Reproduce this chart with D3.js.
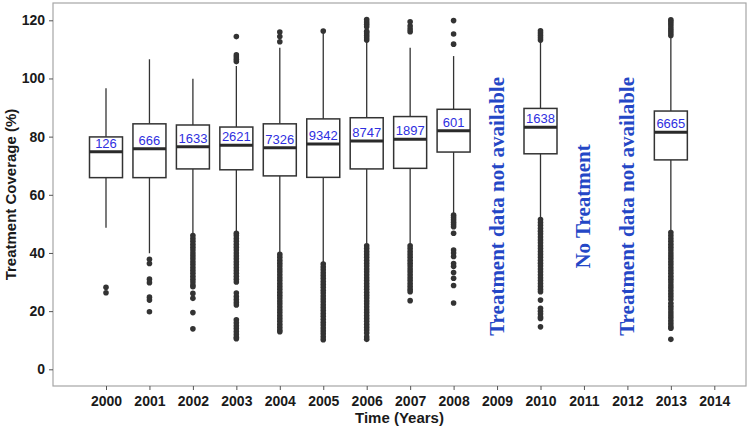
<!DOCTYPE html>
<html>
<head>
<meta charset="utf-8">
<script src="https://cdn.jsdelivr.net/npm/d3@7"></script>
<style>
  body { margin: 0; background: #fff; }
</style>
</head>
<body>
<div class="canvas"></div>
<script>
// data
const years = [2000, 2001, 2002, 2003, 2004, 2005, 2006, 2007, 2008, 2009, 2010, 2011, 2012, 2013, 2014];
const yTicks = [0, 20, 40, 60, 80, 100, 120];

const boxYears = [2000, 2001, 2002, 2003, 2004, 2005, 2006, 2007, 2008, 2010, 2013];
const counts = [126, 666, 1633, 2621, 7326, 9342, 8747, 1897, 601, 1638, 6665];
const q1 = [65.9, 65.9, 68.9, 68.6, 66.5, 66, 68.9, 69.1, 74.7, 74.1, 72];
const medians = [74.8, 75.8, 76.5, 77, 76.2, 77.5, 78.5, 79.1, 82, 83.2, 81.5];
const q3 = [79.9, 84.4, 84, 83.3, 84.4, 86.1, 86.5, 86.9, 89.4, 89.7, 88.8];
const whiskerLow = [48.7, 39.9, 46.5, 46.8, 39.8, 36.7, 43, 42.7, 53.6, 51.9, 47.3];
const whiskerHigh = [96.6, 106.6, 99.9, 104.3, 110.6, 115.8, 112.7, 110.6, 107.7, 112.7, 114];

const outliers = [
    [28.2, 26.3],
    [37.8, 36.4, 31, 29.8, 24.8, 23.8, 19.8],
    [46, 45, 44, 43, 42, 41, 40, 39, 38, 37, 36, 35, 34, 33, 32, 31, 30, 29, 28.4, 26.1, 24.4, 19.5, 13.9],
    [105.8, 106.6, 107.4, 108.1, 114.4,
     46.8, 46, 45, 44, 43, 42, 41, 40, 39, 38, 37, 36, 35, 34, 33, 32, 31, 30, 26.2, 25, 24, 23, 22.1,
     17, 16, 15, 14, 13, 12, 11, 10.5],
    [112.6, 114.4, 116,
     39.5, 38.5, 37.5, 36.5, 35.5, 34.5, 33.5, 32.5, 31.5, 30.5, 29.5, 28.5, 27.5, 26.5, 25.5, 24.5,
     23.5, 22.5, 21.5, 20.5, 19.5, 18.5, 17.5, 16.5, 15.5, 14.5, 13.5, 12.9],
    [116.3,
     36.2, 35.2, 34.2, 33.2, 32.2, 31.2, 30.2, 29.2, 28.2, 27.2, 26.2, 25.2, 24.2, 23.2, 22.2, 21.2,
     20.2, 19.2, 18.2, 17.2, 16.2, 15.2, 14.2, 13.2, 12.2, 11.2, 10.2],
    [113.2, 114, 114.8, 115.6, 116.2, 117.8, 118.6, 119.4, 120.3,
     42.5, 41.5, 40.5, 39.5, 38.5, 37.5, 36.5, 35.5, 34.5, 33.5, 32.5, 31.5, 30.5, 29.5, 28.5, 27.5,
     26.5, 25.5, 24.5, 23.5, 22.5, 21.5, 20.5, 19.5, 18.5, 17.5, 16.5, 15.5, 14.5, 13.5, 12.5, 11.2, 10.3],
    [116.1, 117, 118, 119.5,
     42.5, 41.5, 40.5, 39.5, 38.5, 37.5, 36.5, 35.5, 34.5, 33.5, 32.5, 31.5, 30.5, 29.5, 28.5, 27.5,
     26.7, 23.6],
    [111.8, 115.3, 119.9,
     53, 52.2, 51.4, 50.6, 49.8, 49, 46.8, 41, 40, 38.8, 36.4, 35.4, 33.3, 31.3, 28.8, 22.8],
    [113.2, 114, 114.8, 115.6, 116.4,
     51.5, 50.5, 49.5, 48.5, 47.5, 46.5, 45.5, 44.5, 43.5, 42.5, 41.5, 40.5, 39.5, 38.5, 37.5, 36.5,
     35.5, 34.5, 33.5, 32.5, 31.5, 30.5, 29.5, 28.5, 27.5, 26.7, 23.8, 21, 20, 19, 18, 17.5, 14.6],
    [114.8, 115.6, 116.4, 117.2, 118, 118.8, 119.6, 120.2,
     47, 46, 45, 44, 43, 42, 41, 40, 39, 38, 37, 36, 35, 34, 33, 32, 31, 30, 29, 28, 27, 26, 25, 24,
     22.7, 21.7, 20.7, 19.7, 18.7, 17.7, 16.7, 15.7, 14.7, 14.1, 10.3]
];

const noteYears = [2009, 2011, 2012];
const noteTexts = ['Treatment data not available', 'No Treatment', 'Treatment data not available'];
const noteLevel = 56;

// svg + panel
const width = 750, height = 430;
const panel = { left: 53, right: 746, top: 3, bottom: 386 };

const svg = d3.select('.canvas')
    .append('svg')
    .attr('width', width)
    .attr('height', height);

// scales
const x = d3.scaleLinear()
    .domain([2000, 2014])
    .range([106, 714.3]);

const y = d3.scaleLinear()
    .domain([0, 120])
    .range([369.3, 20.3]);

const boxW = 33;

// panel border
svg.append('rect')
    .attr('x', panel.left)
    .attr('y', panel.top)
    .attr('width', panel.right - panel.left)
    .attr('height', panel.bottom - panel.top)
    .attr('fill', '#fff')
    .attr('stroke', '#a6a6a6')
    .attr('stroke-width', 1.2);

// axes
const xAxis = d3.axisBottom(x)
    .tickValues(years)
    .tickFormat(d3.format('d'))
    .tickSize(4)
    .tickPadding(6);

const yAxis = d3.axisLeft(y)
    .tickValues(yTicks)
    .tickSize(4)
    .tickPadding(4);

const xAxisGroup = svg.append('g')
    .attr('transform', `translate(0, ${panel.bottom})`)
    .call(xAxis);

const yAxisGroup = svg.append('g')
    .attr('transform', `translate(${panel.left}, 0)`)
    .call(yAxis);

[xAxisGroup, yAxisGroup].forEach(g => {
    g.select('.domain').remove();
    g.selectAll('line').attr('stroke', '#555');
    g.selectAll('text')
        .attr('fill', '#1a1a1a')
        .style('font-family', '"Liberation Sans", Arial, sans-serif')
        .style('font-weight', 'bold')
        .style('font-size', '14px');
});

// axis titles
svg.append('text')
    .attr('x', (panel.left + panel.right) / 2)
    .attr('y', 423)
    .attr('text-anchor', 'middle')
    .attr('fill', '#1a1a1a')
    .style('font-family', '"Liberation Sans", Arial, sans-serif')
    .style('font-weight', 'bold')
    .style('font-size', '15px')
    .text('Time (Years)');

svg.append('text')
    .attr('transform', `translate(16, ${(panel.top + panel.bottom) / 2}) rotate(-90)`)
    .attr('text-anchor', 'middle')
    .attr('fill', '#1a1a1a')
    .style('font-family', '"Liberation Sans", Arial, sans-serif')
    .style('font-weight', 'bold')
    .style('font-size', '15px')
    .text('Treatment Coverage (%)');

// box data
const boxes = boxYears.map((yr, i) => ({
    year: yr,
    count: counts[i],
    q1: q1[i],
    med: medians[i],
    q3: q3[i],
    lo: whiskerLow[i],
    hi: whiskerHigh[i],
    out: outliers[i]
}));

const graph = svg.append('g');

// whiskers
graph.selectAll('line.whisker-hi')
    .data(boxes)
    .enter().append('line')
    .attr('class', 'whisker-hi')
    .attr('x1', d => x(d.year)).attr('x2', d => x(d.year))
    .attr('y1', d => y(d.q3)).attr('y2', d => y(d.hi))
    .attr('stroke', '#333').attr('stroke-width', 1.3);

graph.selectAll('line.whisker-lo')
    .data(boxes)
    .enter().append('line')
    .attr('class', 'whisker-lo')
    .attr('x1', d => x(d.year)).attr('x2', d => x(d.year))
    .attr('y1', d => y(d.q1)).attr('y2', d => y(d.lo))
    .attr('stroke', '#333').attr('stroke-width', 1.3);

// outlier points
const pts = [];
boxes.forEach(b => b.out.forEach(v => pts.push({ year: b.year, v: v })));

graph.selectAll('circle')
    .data(pts)
    .enter().append('circle')
    .attr('cx', d => x(d.year))
    .attr('cy', d => y(d.v))
    .attr('r', 2.8)
    .attr('fill', '#333');

// boxes
graph.selectAll('rect.box')
    .data(boxes)
    .enter().append('rect')
    .attr('class', 'box')
    .attr('x', d => x(d.year) - boxW / 2)
    .attr('y', d => y(d.q3))
    .attr('width', boxW)
    .attr('height', d => y(d.q1) - y(d.q3))
    .attr('fill', '#fff')
    .attr('stroke', '#333')
    .attr('stroke-width', 1.5);

// medians
graph.selectAll('line.median')
    .data(boxes)
    .enter().append('line')
    .attr('class', 'median')
    .attr('x1', d => x(d.year) - boxW / 2)
    .attr('x2', d => x(d.year) + boxW / 2)
    .attr('y1', d => y(d.med)).attr('y2', d => y(d.med))
    .attr('stroke', '#2a2a2a')
    .attr('stroke-width', 3);

// counts
graph.selectAll('text.count')
    .data(boxes)
    .enter().append('text')
    .attr('class', 'count')
    .attr('x', d => x(d.year))
    .attr('y', d => y(d.med) - 4)
    .attr('text-anchor', 'middle')
    .attr('fill', '#2f2fe0')
    .style('font-family', '"Liberation Sans", Arial, sans-serif')
    .style('font-size', '13px')
    .text(d => d.count);

// rotated notes
graph.selectAll('text.note')
    .data(noteYears.map((yr, i) => ({ year: yr, text: noteTexts[i] })))
    .enter().append('text')
    .attr('class', 'note')
    .attr('transform', d => `translate(${x(d.year) + 6.5}, ${y(noteLevel)}) rotate(-90)`)
    .attr('text-anchor', 'middle')
    .attr('fill', '#2447c6')
    .style('font-family', '"Liberation Serif", "Times New Roman", serif')
    .style('font-weight', 'bold')
    .style('font-size', '21px')
    .text(d => d.text);
</script>
</body>
</html>
